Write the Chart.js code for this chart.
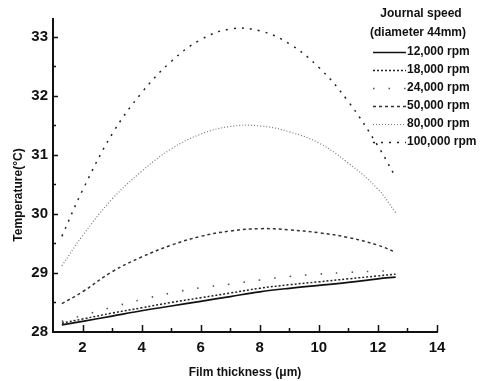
<!DOCTYPE html>
<html>
<head>
<meta charset="utf-8">
<script src="https://cdn.jsdelivr.net/npm/chart.js@4/dist/chart.umd.min.js"></script>
<style>
  html, body { margin: 0; padding: 0; background: #fff; }
  #wrap { width: 489px; height: 381px; }
</style>
</head>
<body>
<div id="wrap"><canvas id="chart" width="489" height="381"></canvas></div>
<script>
var thickness = [1.3, 2, 3, 4, 5, 6, 7, 8, 9, 10, 11, 12, 12.6];
var rpm12000  = [28.12, 28.18, 28.27, 28.36, 28.44, 28.52, 28.60, 28.68, 28.74, 28.79, 28.84, 28.90, 28.93];
var rpm18000  = [28.15, 28.22, 28.32, 28.41, 28.50, 28.58, 28.66, 28.74, 28.80, 28.85, 28.90, 28.95, 28.98];
var rpm24000  = [28.18, 28.28, 28.42, 28.55, 28.66, 28.75, 28.81, 28.88, 28.94, 28.98, 29.01, 29.03, 29.04];
var rpm50000  = [28.48, 28.68, 29.02, 29.27, 29.47, 29.62, 29.71, 29.75, 29.73, 29.68, 29.60, 29.47, 29.35];
var rpm80000  = [29.12, 29.63, 30.25, 30.72, 31.10, 31.35, 31.48, 31.49, 31.39, 31.20, 30.86, 30.42, 30.02];
var rpm100000 = [29.62, 30.40, 31.35, 32.05, 32.58, 32.95, 33.13, 33.10, 32.88, 32.48, 31.90, 31.15, 30.62];
var speedLabels = ['12,000 rpm', '18,000 rpm', '24,000 rpm', '50,000 rpm', '80,000 rpm', '100,000 rpm'];
var xTicks = [2, 4, 6, 8, 10, 12, 14];
var yTicks = [28, 29, 30, 31, 32, 33];
var xTitle = 'Film thickness (\u03bcm)';
var yTitle = 'Temperature(\u00b0C)';
var legendTitle = ['Journal speed', '(diameter 44mm)'];

var FONT = '"Liberation Sans", Arial, sans-serif';

function pts(ys) {
    return ys.map(function(v, i){ return {x: thickness[i], y: v}; });
}

var styles = [
    {color: '#111', width: 1.7, dash: []},
    {color: '#222', width: 1.5, dash: [2, 2]},
    {color: '#555', width: 1.6, dash: [1.5, 14]},
    {color: '#333', width: 1.5, dash: [3, 3]},
    {color: '#777', width: 1.2, dash: [1, 2]},
    {color: '#222', width: 1.5, dash: [2, 6]}
];
var series = [rpm12000, rpm18000, rpm24000, rpm50000, rpm80000, rpm100000];

var datasets = series.map(function(s, i){
    return {
        label: speedLabels[i],
        data: pts(s),
        borderColor: styles[i].color,
        borderWidth: styles[i].width,
        borderDash: styles[i].dash,
        pointRadius: 0,
        fill: false,
        tension: 0.4
    };
});

// inward tick marks, y title and the legend block
var decor = {
    id: 'decor',
    afterDraw: function(chart) {
        var ctx = chart.ctx, sx = chart.scales.x, sy = chart.scales.y, a = chart.chartArea;
        ctx.save();
        ctx.strokeStyle = '#111';
        ctx.lineWidth = 1.5;
        ctx.setLineDash([]);
        ctx.beginPath();
        for (var v = 2; v <= 14; v++) {
            var px = Math.round(sx.getPixelForValue(v)) + 0.5;
            var len = v % 2 === 0 ? 7 : 4;
            ctx.moveTo(px, a.bottom);
            ctx.lineTo(px, a.bottom - len);
        }
        for (var t = 28.5; t <= 33.01; t += 0.5) {
            var py = Math.round(sy.getPixelForValue(t)) + 0.5;
            var l2 = Math.abs(t - Math.round(t)) < 0.01 ? 5 : 3;
            ctx.moveTo(a.left, py);
            ctx.lineTo(a.left + l2, py);
        }
        ctx.stroke();

        ctx.fillStyle = '#111';
        ctx.font = 'bold 12px ' + FONT;
        ctx.textAlign = 'center';
        ctx.textBaseline = 'middle';
        ctx.save();
        ctx.translate(19, 195);
        ctx.rotate(-Math.PI / 2);
        ctx.fillText(yTitle, 0, 0);
        ctx.restore();

        // legend
        ctx.fillText(legendTitle[0], 421, 14);
        ctx.fillText(legendTitle[1], 418, 33);
        ctx.textAlign = 'left';
        chart.data.datasets.forEach(function(ds, i){
            var yy = 52 + i * 18;
            ctx.strokeStyle = ds.borderColor;
            ctx.lineWidth = ds.borderWidth;
            ctx.setLineDash(ds.borderDash);
            ctx.beginPath();
            ctx.moveTo(373, yy + 0.5);
            ctx.lineTo(406, yy + 0.5);
            ctx.stroke();
            ctx.fillText(ds.label, 407, yy);
        });
        ctx.restore();
    }
};

new Chart(document.getElementById('chart'), {
    type: 'line',
    data: { datasets: datasets },
    options: {
        responsive: false,
        animation: false,
        layout: { padding: { top: 19, right: 52, left: 0, bottom: 0 } },
        plugins: { legend: { display: false }, tooltip: { enabled: false } },
        scales: {
            x: {
                type: 'linear',
                min: 1, max: 14,
                afterBuildTicks: function(s){ s.ticks = xTicks.map(function(v){ return {value: v}; }); },
                afterFit: function(s){ s.height = 49; },
                grid: { display: false, drawTicks: false },
                border: { display: true, color: '#111', width: 2 },
                ticks: { padding: 7, color: '#111', font: { family: FONT, size: 15, weight: 'bold' }, maxRotation: 0 },
                title: { display: true, text: xTitle, color: '#111', padding: { top: 0, bottom: 1 }, font: { family: FONT, size: 12, weight: 'bold' } }
            },
            y: {
                min: 28, max: 33.3,
                afterBuildTicks: function(s){ s.ticks = yTicks.map(function(v){ return {value: v}; }); },
                afterFit: function(s){ s.width = 53; },
                grid: { display: false, drawTicks: false },
                border: { display: true, color: '#111', width: 2 },
                ticks: { padding: 5, color: '#111', font: { family: FONT, size: 15, weight: 'bold' } }
            }
        }
    },
    plugins: [decor]
});
</script>
</body>
</html>
